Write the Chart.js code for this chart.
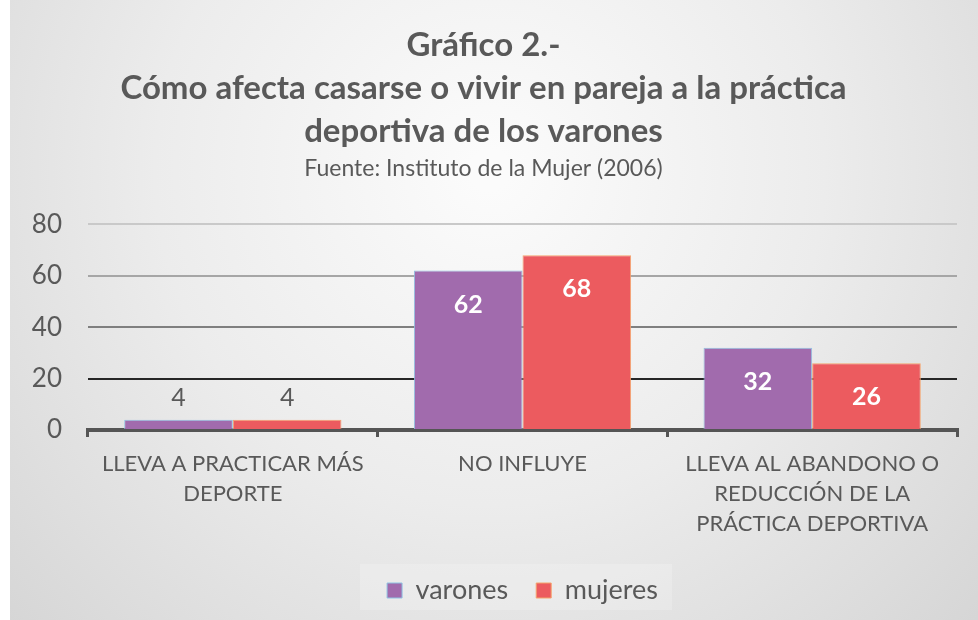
<!DOCTYPE html>
<html>
<head>
<meta charset="utf-8">
<script src="https://cdn.jsdelivr.net/npm/chart.js@4"></script>
<style>
  html, body { margin: 0; padding: 0; background: #fff; }
  #wrap { width: 978px; height: 620px; }
</style>
</head>
<body>
<div id="wrap"><canvas id="barChart"></canvas></div>
<script>
// datos del gráfico
const categories = [
    ['LLEVA A PRACTICAR MÁS', 'DEPORTE'],
    ['NO INFLUYE'],
    ['LLEVA AL ABANDONO O', 'REDUCCIÓN DE LA', 'PRÁCTICA DEPORTIVA']
];
const varones = [4, 62, 32];
const mujeres = [4, 68, 26];
const yTicks = [0, 20, 40, 60, 80];

const titleLines = [
    'Gráfico 2.-',
    'Cómo afecta casarse o vivir en pareja a la práctica',
    'deportiva de los varones'
];
const subtitleText = 'Fuente: Instituto de la Mujer (2006)';

const textGray = '#595959';
const fontName = 'Lato, "Open Sans", sans-serif';

// colores de las líneas de la cuadrícula (de 0 a 80)
const gridColors = ['rgba(0,0,0,0)', '#262626', '#7f7f7f', '#a6a6a6', '#c9c9c9'];

// fondo degradado gris, con franja blanca a la izquierda
const backgroundPlugin = {
    id: 'bg',
    beforeDraw(chart) {
        const ctx = chart.ctx;
        const w = chart.width, h = chart.height;
        ctx.save();
        ctx.fillStyle = '#ffffff';
        ctx.fillRect(0, 0, w, h);
        const g = ctx.createRadialGradient(490, 170, 20, 490, 170, 720);
        g.addColorStop(0, '#fbfbfb');
        g.addColorStop(0.45, '#ececec');
        g.addColorStop(1, '#d2d2d2');
        ctx.fillStyle = g;
        ctx.fillRect(10, 0, w - 10, h);

        // caja de la leyenda un poco más clara
        ctx.fillStyle = 'rgba(255,255,255,0.2)';
        ctx.fillRect(360, 564, 312, 46);
        ctx.restore();
    }
};

// etiquetas de valores sobre / dentro de las barras
const valueLabels = {
    id: 'valueLabels',
    afterDatasetsDraw(chart) {
        const ctx = chart.ctx;
        ctx.save();
        ctx.textAlign = 'center';
        ctx.textBaseline = 'middle';
        chart.data.datasets.forEach((ds, i) => {
            const meta = chart.getDatasetMeta(i);
            meta.data.forEach((bar, j) => {
                const v = ds.data[j];
                if (v < 10) {
                    ctx.fillStyle = textGray;
                    ctx.font = '25px ' + fontName;
                    ctx.fillText(v, bar.x, bar.y - 22);
                } else {
                    ctx.fillStyle = '#ffffff';
                    ctx.font = 'bold 25px ' + fontName;
                    ctx.fillText(v, bar.x, bar.y + 34);
                }
            });
        });
        ctx.restore();
    }
};

const ctx = document.getElementById('barChart').getContext('2d');
const chart = new Chart(ctx, {
    type: 'bar',
    data: {
        labels: categories,
        datasets: [{
            label: 'varones',
            data: varones,
            backgroundColor: '#a16bad',
            borderColor: '#8fc3e3',
            borderWidth: 1
        }, {
            label: 'mujeres',
            data: mujeres,
            backgroundColor: '#ec5b5f',
            borderColor: '#f5a46c',
            borderWidth: 1
        }]
    },
    options: {
        responsive: true,
        maintainAspectRatio: false,
        animation: false,
        devicePixelRatio: 1,
        layout: {
            padding: { left: 10, right: 21, top: 0, bottom: 6 }
        },
        datasets: {
            bar: {
                categoryPercentage: 0.75,
                barPercentage: 1.0
            }
        },
        scales: {
            x: {
                afterFit(scale) { scale.height = 119; },
                grid: {
                    offset: true,
                    drawOnChartArea: false,
                    color: '#555555',
                    lineWidth: 3,
                    tickLength: 7
                },
                border: { color: '#555555', width: 4 },
                ticks: {
                    color: textGray,
                    font: { family: fontName, size: 22, lineHeight: 1.36 },
                    padding: 12,
                    maxRotation: 0
                }
            },
            y: {
                min: 0,
                max: 80,
                afterFit(scale) { scale.width = 78; },
                afterBuildTicks(scale) {
                    scale.ticks = yTicks.map(v => ({ value: v }));
                },
                grid: {
                    drawTicks: false,
                    lineWidth: 2,
                    color: c => gridColors[c.index] || '#cccccc'
                },
                border: { display: false },
                ticks: {
                    color: textGray,
                    font: { family: fontName, size: 26 },
                    padding: 26
                }
            }
        },
        plugins: {
            title: {
                display: true,
                text: titleLines,
                color: textGray,
                font: { family: fontName, size: 33, weight: 'bold', lineHeight: 1.3 },
                padding: { top: 24, bottom: 2 }
            },
            subtitle: {
                display: true,
                text: subtitleText,
                color: textGray,
                font: { family: fontName, size: 23, lineHeight: 1.2 },
                padding: { top: 0, bottom: 42 }
            },
            legend: {
                position: 'bottom',
                fullSize: false,
                labels: {
                    color: textGray,
                    font: { family: fontName, size: 27 },
                    boxWidth: 15,
                    boxHeight: 15,
                    padding: 28
                }
            },
            tooltip: { enabled: false }
        }
    },
    plugins: [backgroundPlugin, valueLabels]
});
</script>
</body>
</html>
